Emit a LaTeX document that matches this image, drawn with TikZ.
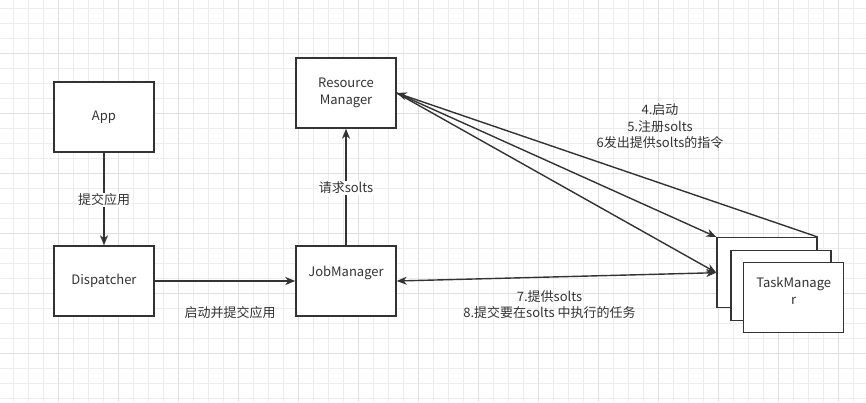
\documentclass[tikz,border=0pt]{standalone}
\usepackage{fontspec}
\setmainfont{Noto Sans CJK SC}
\usetikzlibrary{arrows.meta}
\definecolor{ink}{HTML}{333333}
\definecolor{gridminor}{HTML}{EDEDED}
\definecolor{gridmajor}{HTML}{E0E0E0}
\begin{document}
\begin{tikzpicture}[x=1pt,y=-1pt,
  box/.style={draw=ink, line width=1.4pt, fill=white, minimum width=100pt,
    minimum height=70pt, inner sep=0pt},
  txt/.style={text=ink, font=\fontsize{13}{16.5}\selectfont, align=center, inner sep=1pt},
  conn/.style={draw=ink, line width=1.4pt},
  tip/.style={-{Stealth[length=10pt,width=8pt,inset=3pt]}},
  tips/.style={{Stealth[length=10pt,width=8pt,inset=3pt]}-{Stealth[length=10pt,width=8pt,inset=3pt]}}
]
% canvas and grid
\fill[white] (0,0) rectangle (866,402);
\useasboundingbox (0,0) rectangle (866,402);
\foreach \k in {0,...,58} {
  \draw[gridminor, line width=0.8pt] ({-2+15*\k},0) -- ({-2+15*\k},402);
}
\foreach \k in {0,...,26} {
  \draw[gridminor, line width=0.8pt] (0,{8+15*\k}) -- (866,{8+15*\k});
}
\foreach \k in {0,...,14} {
  \draw[gridmajor, line width=0.8pt] ({-2+60*\k},0) -- ({-2+60*\k},402);
}
\foreach \k in {0,...,6} {
  \draw[gridmajor, line width=0.8pt] (0,{-7+60*\k}) -- (866,{-7+60*\k});
}

% boxes
\node[box] (app) at (104,117) {};
\node[txt] (apptext) at (104,117) {App};
\node[box] (disp) at (104,281) {};
\node[txt] (disptext) at (104,281) {Dispatcher};
\node[box] (rm) at (346,93) {};
\node[txt] (rmtext) at (346,93) {Resource\\Manager};
\node[box] (jm) at (346,281) {};
\node[txt] (jmtext) at (346,273) {JobManager};
\node[box] (tm1) at (767,272.7) {};
\node[box] (tm2) at (781,285.7) {};
\node[box] (tm3) at (793.7,297.7) {};
\node[txt, font=\fontsize{13}{17}\selectfont] (tmtext) at (793.7,290.5) {TaskManage\\r};

% connectors
\draw[conn,tip] (app) -- (disp);
\draw[conn,tip] (disp) -- (jm);
\draw[conn,tip] (jm) -- (rm);
\draw[conn,tip] (tm1.north east) -- (rm.east);
\draw[conn,tip] (rm.east) -- (tm1.north west);
\draw[conn,tip] (rm.east) -- (tm1.west);
\draw[conn,tips] (jm.east) -- (tm1.west);

% connector labels
\node[txt, fill=white] (l1) at (104,200) {提交应用};
\node[txt, fill=white] (l2) at (346,188) {请求solts};
\node[txt] (l3) at (230,313) {启动并提交应用};
\node[txt] (l4) at (660,126.5) {4.启动\\5.注册solts\\6发出提供solts的指令};
\node[txt] (l5) at (549.5,304.5) {7.提供solts\\8.提交要在solts 中执行的任务};
\end{tikzpicture}
\end{document}
